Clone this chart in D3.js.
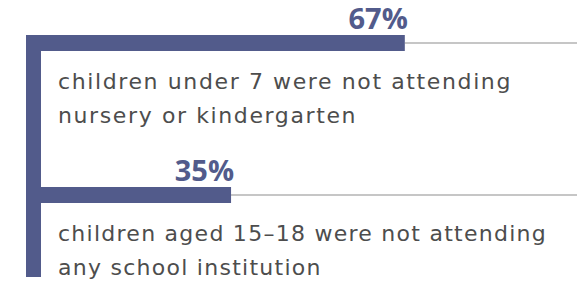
<!DOCTYPE html>
<html>
<head>
<meta charset="utf-8">
<script src="https://cdn.jsdelivr.net/npm/d3@7"></script>
<style>
  html, body { margin: 0; padding: 0; background: #fff; }
  svg { display: block; }
</style>
</head>
<body>
<svg width="577" height="282"></svg>
<script>
'use strict'

const values = [67, 35];
const valueLabels = ['67%', '35%'];
const captions = [
  ['children under 7 were not attending', 'nursery or kindergarten'],
  ['children aged 15\u201318 were not attending', 'any school institution']
];

const BAR_COLOR = '#525b8b';
const TEXT_COLOR = '#4d4d4d';
const LINE_COLOR = '#b3b3b3';
const BAR_H = 16;
// widths of each caption's first line in the reference, used to fit spacing
const FIT_W = [454, 489];

const svg = d3.select('svg');
const width = 577;

const x = d3.scaleLinear().domain([0, 100]).range([41, 584]);
// top of each bar row
const y = d3.scaleOrdinal().domain(d3.range(values.length)).range([35, 187]);

// vertical spine
svg.append('rect')
  .attr('x', 26)
  .attr('y', 35)
  .attr('width', x(0) - 26)
  .attr('height', 277 - 35)
  .attr('fill', BAR_COLOR);

const rows = svg.selectAll('g.row')
  .data(values)
  .join('g')
  .attr('class', 'row');

// thin guide line from bar end to the edge
rows.append('line')
  .attr('x1', d => x(d))
  .attr('x2', width)
  .attr('y1', (d, i) => y(i) + BAR_H / 2)
  .attr('y2', (d, i) => y(i) + BAR_H / 2)
  .attr('stroke', LINE_COLOR)
  .attr('stroke-width', 1.5);

rows.append('rect')
  .attr('x', 26)
  .attr('y', (d, i) => y(i))
  .attr('width', d => x(d) - 26)
  .attr('height', BAR_H)
  .attr('fill', BAR_COLOR);

rows.append('text')
  .attr('x', d => x(d) + 3)
  .attr('y', (d, i) => y(i) - 6)
  .attr('text-anchor', 'end')
  .attr('font-family', '"Open Sans", sans-serif')
  .attr('font-weight', 700)
  .attr('font-size', 29)
  .attr('fill', BAR_COLOR)
  .text((d, i) => valueLabels[i]);

const cap = rows.append('text')
  .attr('font-family', '"DejaVu Sans", sans-serif')
  .attr('font-size', 22)
  .attr('fill', TEXT_COLOR);

cap.selectAll('tspan')
  .data((d, i) => captions[i].map((t, k) => ({ t, k, i })))
  .join('tspan')
  .attr('x', 58)
  .attr('y', d => y(d.i) + 54 + d.k * 34)
  .text(d => d.t);

// nudge letter spacing so each caption's first line matches the reference
cap.each(function (d, i) {
  const t = d3.select(this);
  const w = t.select('tspan').node().getComputedTextLength();
  t.attr('letter-spacing', (FIT_W[i] - w) / captions[i][0].length);
});
</script>
</body>
</html>
